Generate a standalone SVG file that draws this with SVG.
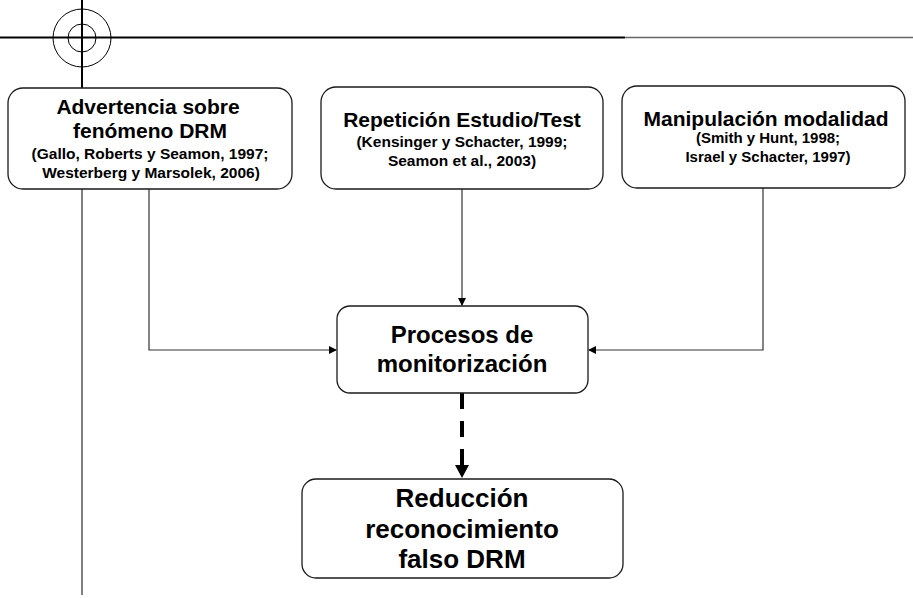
<svg xmlns="http://www.w3.org/2000/svg" width="913" height="598" viewBox="0 0 913 598">
<style>
.box{fill:#fff;stroke:#1a1a1a;stroke-width:1.3}
.t{font-family:"Liberation Sans",Arial,sans-serif;font-weight:bold;fill:#000;text-anchor:middle}
.big{font-size:21px}
.sm{font-size:15.5px}
.conn{fill:none;stroke:#333;stroke-width:1.2}
.crop{fill:none;stroke:#000}
</style>
<defs>
<marker id="ah" markerWidth="8" markerHeight="8" refX="7" refY="4" orient="auto" markerUnits="userSpaceOnUse">
<path d="M0,0 L8,4 L0,8 Z" fill="#000"/>
</marker>
</defs>
<g id="cropmarks">
<line class="crop" x1="0" y1="37.5" x2="625" y2="37.5" stroke-width="2"/>
<line x1="625" y1="37.5" x2="913" y2="37.5" stroke="#666" stroke-width="1.3"/>
<line class="crop" x1="82" y1="0" x2="82" y2="90" stroke-width="2"/>
<line class="crop" x1="82" y1="189" x2="82" y2="595" stroke-width="1"/>
<circle class="crop" cx="82" cy="38" r="29" stroke-width="1"/>
<circle class="crop" cx="82" cy="38" r="14" stroke-width="1"/>
</g>
<g id="connectors">
<polyline class="conn" points="149,189 149,350 336,350" marker-end="url(#ah)"/>
<polyline class="conn" points="763,188 763,350 589,350" marker-end="url(#ah)"/>
<line class="conn" x1="462" y1="189" x2="462" y2="305" marker-end="url(#ah)"/>
<line x1="462" y1="393" x2="462" y2="465" stroke="#000" stroke-width="4" stroke-dasharray="16,12"/>
<path d="M455,465 L469,465 L462,478 Z" fill="#000"/>
</g>
<g id="n1">
<rect class="box" x="8" y="88" width="284" height="101" rx="15"/>
<text class="t big" x="148" y="114">Advertencia sobre</text>
<text class="t big" x="150" y="138">fenómeno DRM</text>
<text class="t sm" x="150" y="159">(Gallo, Roberts y Seamon, 1997;</text>
<text class="t sm" x="151" y="178">Westerberg y Marsolek, 2006)</text>
</g>
<g id="n2">
<rect class="box" x="321" y="87" width="282" height="102" rx="15"/>
<text class="t big" x="462" y="127">Repetición Estudio/Test</text>
<text class="t sm" x="462" y="147">(Kensinger y Schacter, 1999;</text>
<text class="t sm" x="462" y="166">Seamon et al., 2003)</text>
</g>
<g id="n3">
<rect class="box" x="622" y="86" width="283" height="102" rx="15"/>
<text class="t big" x="766" y="126">Manipulación modalidad</text>
<text class="t" style="font-size:15px" x="768" y="143">(Smith y Hunt, 1998;</text>
<text class="t" style="font-size:15px" x="768" y="162">Israel y Schacter, 1997)</text>
</g>
<g id="n4">
<rect class="box" x="337" y="306" width="251" height="87" rx="13"/>
<text class="t" style="font-size:24px" x="462" y="343">Procesos de</text>
<text class="t" style="font-size:24px" x="462" y="372">monitorización</text>
</g>
<g id="n5">
<rect class="box" x="302" y="479" width="321" height="99" rx="14"/>
<text class="t" style="font-size:26px" x="462" y="507">Reducción</text>
<text class="t" style="font-size:26px" x="462" y="538">reconocimiento</text>
<text class="t" style="font-size:26px" x="462" y="568">falso DRM</text>
</g>
</svg>
